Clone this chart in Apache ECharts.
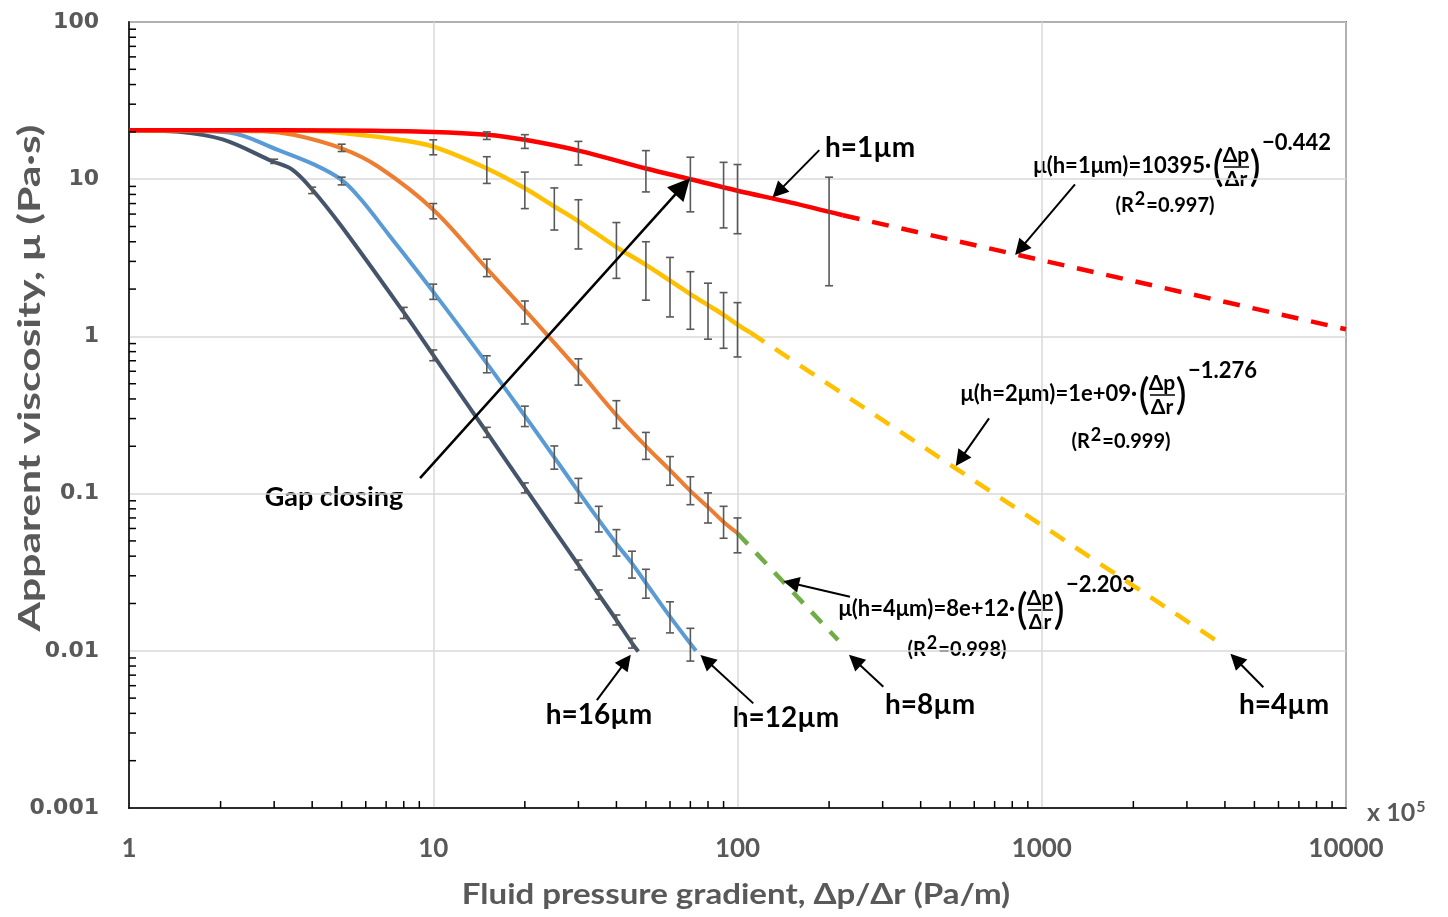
<!DOCTYPE html>
<html>
<head>
<meta charset="utf-8">
<title>Apparent viscosity vs fluid pressure gradient</title>
<script src="https://cdn.jsdelivr.net/npm/echarts@6/dist/echarts.min.js"></script>
<style>
  html, body { margin: 0; padding: 0; background: #fff; }
  #chart { width: 1448px; height: 917px; }
</style>
</head>
<body>
<div id="chart"></div>
<script>
// axis range / tick labels
const xMin = 1, xMax = 10000
const yMin = 0.001, yMax = 100
const minorSteps = [2, 3, 4, 5, 6, 7, 8, 9]
const xDecades = [1, 10, 100, 1000]
const yDecades = [0.001, 0.01, 0.1, 1, 10]

// measured curves [x (x10^5 Pa/m), viscosity (Pa.s)]
const curveH1 = [[1, 20.5], [2, 20.5], [5, 20.4], [10, 20], [15, 19.2], [20, 17.8], [30, 15.2], [50, 11.7], [70, 10.0], [100, 8.45], [150, 7.1], [222, 5.9]]
const curveH2 = [[1, 20.5], [3, 20.4], [4.4, 20.1], [5.8, 19.1], [7.6, 17.9], [10, 16.1], [15, 11.7], [20, 8.75], [25, 6.7], [30, 5.4], [40, 3.7], [50, 2.85], [60, 2.26], [70, 1.86], [80, 1.58], [90, 1.37], [100, 1.19], [110, 1.06]]
const curveH4 = [[1, 20.5], [2, 20.3], [2.74, 20.2], [3.5, 19.1], [5, 15.7], [6.6, 12], [10, 6.4], [15, 2.7], [20, 1.47], [30, 0.61], [40, 0.316], [50, 0.2], [60, 0.141], [70, 0.104], [80, 0.082], [90, 0.066], [100, 0.056]]
const curveH12 = [[1, 20.5], [1.5, 20.3], [2.13, 19.8], [3.1, 15.3], [4.1, 12.3], [5, 9.9], [5.8, 7.4], [7.1, 4.5], [10, 1.92], [15, 0.674], [20, 0.312], [25, 0.17], [30, 0.103], [35, 0.068], [40, 0.048], [45, 0.036], [50, 0.027], [60, 0.0165], [73, 0.01]]
const curveH16 = [[1, 20.5], [1.46, 20], [2.03, 17.9], [2.96, 13], [3.44, 11.5], [4, 8.6], [5, 5.0], [8, 1.42], [10, 0.76], [15, 0.245], [20, 0.109], [30, 0.0352], [35, 0.0228], [40, 0.0157], [45, 0.0112], [47.2, 0.0099]]

// power-law fits (dashed)
const fitH1 = [[222, 5.9], [10000, 1.11]]
const fitH2 = [[110, 1.06], [3800, 0.0114]]
const fitH4 = [[100, 0.056], [214, 0.0117]]

// error bars [x, low, high]
const errH1 = [[15, 17.9, 20.0], [20, 15.7, 19.2], [30, 12.3, 17.4], [50, 8.3, 15.2], [70, 6.2, 13.8], [90, 4.9, 12.8], [100, 4.5, 12.4], [200, 2.1, 10.3]]
const errH2 = [[10, 14.3, 17.8], [15, 9.4, 13.9], [20, 6.5, 11.1], [25, 4.75, 8.8], [30, 3.6, 7.4], [40, 2.34, 5.3], [50, 1.7, 4.0], [60, 1.33, 3.18], [70, 1.11, 2.58], [80, 0.96, 2.18], [90, 0.84, 1.9], [100, 0.74, 1.64]]
const errH4 = [[5, 15.0, 16.7], [10, 5.6, 7.0], [15, 2.4, 3.1], [20, 1.2, 1.68], [30, 0.49, 0.72], [40, 0.26, 0.39], [50, 0.165, 0.245], [60, 0.113, 0.172], [70, 0.085, 0.128], [80, 0.065, 0.101], [90, 0.052, 0.083], [100, 0.042, 0.07]]
const errH12 = [[5, 9.2, 10.3], [10, 1.72, 2.15], [15, 0.587, 0.753], [20, 0.267, 0.36], [25, 0.143, 0.201], [30, 0.087, 0.125], [35, 0.057, 0.083], [40, 0.04, 0.059], [45, 0.029, 0.043], [50, 0.0216, 0.033], [60, 0.013, 0.0205], [70, 0.0086, 0.0139]]
const errH16 = [[3, 12.6, 13.4], [4, 8.1, 8.9], [8, 1.30, 1.53], [10, 0.70, 0.82], [15, 0.228, 0.264], [20, 0.101, 0.117], [30, 0.0327, 0.0378], [35, 0.0213, 0.0244], [40, 0.0146, 0.0169], [45, 0.0104, 0.012]]

// annotation arrows, data coords [tail, head]
const arrowGap = [[9.05, 0.1256], [66, 9.0]]
const arrows = [
  [[185.7, 15.3], [136, 8.3]],     // h=1um
  [[1286, 9.28], [850, 3.6]],      // fit h=1um
  [[671, 0.301], [540, 0.165]],    // fit h=2um
  [[234.3, 0.0221], [150, 0.027]], // fit h=4um
  [[5350, 0.00586], [4350, 0.0088]], // h=4um
  [[301.5, 0.00591], [243, 0.0087]], // h=8um
  [[112.7, 0.00463], [79, 0.0087]],  // h=12um
  [[34.5, 0.00486], [43, 0.0086]]    // h=16um
]

const GRAY = '#595959'
const TXT = 'Lato'

const minorX = []
xDecades.forEach(d => minorSteps.forEach(s => minorX.push([d * s, yMin])))
const minorY = []
yDecades.forEach(d => minorSteps.forEach(s => minorY.push([xMin, d * s])))

function fmt (v) {
  return String(Number(v.toPrecision(3)))
}

function renderErrorBar (params, api) {
  const x = api.value(0)
  const lo = api.coord([x, api.value(1)])
  const hi = api.coord([x, api.value(2)])
  const w = 4
  const st = { stroke: GRAY, lineWidth: 1.6 }
  return {
    type: 'group',
    children: [
      { type: 'line', shape: { x1: lo[0], y1: lo[1], x2: hi[0], y2: hi[1] }, style: st },
      { type: 'line', shape: { x1: lo[0] - w, y1: lo[1], x2: lo[0] + w, y2: lo[1] }, style: st },
      { type: 'line', shape: { x1: hi[0] - w, y1: hi[1], x2: hi[0] + w, y2: hi[1] }, style: st }
    ]
  }
}

function renderXMinor (params, api) {
  const p = api.coord([api.value(0), api.value(1)])
  return { type: 'line', shape: { x1: p[0], y1: p[1], x2: p[0], y2: p[1] - 7 }, style: { stroke: '#000', lineWidth: 1.5 } }
}

function renderYMinor (params, api) {
  const p = api.coord([api.value(0), api.value(1)])
  return { type: 'line', shape: { x1: p[0], y1: p[1], x2: p[0] + 7, y2: p[1] }, style: { stroke: '#000', lineWidth: 1.5 } }
}

function curve (data, color, width) {
  return {
    type: 'line', data: data, showSymbol: false, smooth: 0.35,
    lineStyle: { color: color, width: width }, z: 3, silent: true
  }
}

function fit (data, color, dash) {
  return {
    type: 'line', data: data, showSymbol: false,
    lineStyle: { color: color, width: 4.5, type: dash }, z: 3, silent: true
  }
}

function txt (text, x, y, size, opts) {
  return Object.assign({
    type: 'text', x: x, y: y, silent: true,
    style: { text: text, font: 'bold ' + size + 'px ' + TXT, fill: '#000', align: 'center', verticalAlign: 'middle' }
  }, opts || {})
}

// fraction formula: fx,fy = left end / height of the fraction bar
function formula (f) {
  const els = []
  els.push({ type: 'text', x: f.fx - 12, y: f.fy - 1, style: { text: f.prefix, font: 'bold 22px ' + TXT, fill: '#000', align: 'right', verticalAlign: 'middle' } })
  els.push({ type: 'text', x: f.fx - 5, y: f.fy, style: { text: '(', font: '42px ' + TXT, fill: '#000', align: 'center', verticalAlign: 'middle' } })
  els.push({ type: 'text', x: f.fx + 13, y: f.fy - 12, style: { text: 'Δp', font: 'bold 21px ' + TXT, fill: '#000', align: 'center', verticalAlign: 'middle' } })
  els.push({ type: 'line', shape: { x1: f.fx + 1, y1: f.fy, x2: f.fx + 26, y2: f.fy }, style: { stroke: '#000', lineWidth: 1.5 } })
  els.push({ type: 'text', x: f.fx + 13, y: f.fy + 12, style: { text: 'Δr', font: 'bold 21px ' + TXT, fill: '#000', align: 'center', verticalAlign: 'middle' } })
  els.push({ type: 'text', x: f.fx + 32, y: f.fy, style: { text: ')', font: '42px ' + TXT, fill: '#000', align: 'center', verticalAlign: 'middle' } })
  els.push({ type: 'text', x: f.fx + 39, y: f.ey, style: { text: f.expo, font: 'bold 22px ' + TXT, fill: '#000', align: 'left', verticalAlign: 'middle' } })
  els.push({
    type: 'text', x: f.rx, y: f.ry,
    style: {
      text: '{a|(R}{s|2}{a|=' + f.r2 + ')}', align: 'center', verticalAlign: 'middle',
      rich: {
        a: { font: 'bold 20px ' + TXT, fill: '#000', verticalAlign: 'bottom' },
        s: { font: 'bold 18px ' + TXT, fill: '#000', verticalAlign: 'bottom', padding: [0, 1, 8, 1] }
      }
    }
  })
  return els
}

const formulas = [
  { prefix: 'μ(h=1μm)=10395·', expo: '−0.442', fx: 1223, fy: 167, ey: 143, r2: '0.997', rx: 1165, ry: 203 },
  { prefix: 'μ(h=2μm)=1e+09·', expo: '−1.276', fx: 1149, fy: 395, ey: 371, r2: '0.999', rx: 1121, ry: 439 },
  { prefix: 'μ(h=4μm)=8e+12·', expo: '−2.203', fx: 1027, fy: 610, ey: 585, r2: '0.998', rx: 957, ry: 647 }
]

const graphics = [
  txt('Gap closing', 334, 497, 27),
  txt('h=1µm', 870, 148, 28),
  txt('h=16µm', 599, 715, 28),
  txt('h=12µm', 786, 718, 28),
  txt('h=8µm', 930, 705, 28),
  txt('h=4µm', 1284, 705, 28),
  // axis titles
  {
    type: 'text', x: 736, y: 895, scaleX: 1.14, silent: true,
    style: { text: 'Fluid pressure gradient, Δp/Δr (Pa/m)', font: 'bold 29px ' + TXT, fill: GRAY, align: 'center', verticalAlign: 'middle' }
  },
  {
    type: 'text', x: 30, y: 378, rotation: Math.PI / 2, scaleX: 1.42, silent: true,
    style: { text: 'Apparent viscosity, μ (Pa·s)', font: 'bold 30px ' + TXT, fill: GRAY, align: 'center', verticalAlign: 'middle' }
  },
  {
    type: 'text', x: 1367, y: 812, silent: true,
    style: {
      text: '{a|x 10}{s|5}', align: 'left', verticalAlign: 'middle',
      rich: {
        a: { font: 'bold 25px ' + TXT, fill: GRAY, verticalAlign: 'bottom' },
        s: { font: 'bold 16px ' + TXT, fill: GRAY, verticalAlign: 'bottom', padding: [0, 0, 10, 1] }
      }
    }
  }
]
formulas.forEach(f => { formula(f).forEach(e => { e.silent = true; graphics.push(e) }) })

const option = {
  animation: false,
  backgroundColor: '#fff',
  grid: {
    left: 129, right: 102, top: 22, bottom: 109, show: true, borderColor: '#000', borderWidth: 1.5,
    containLabel: false, outerBoundsMode: 'none'
  },
  xAxis: {
    type: 'log', logBase: 10, min: xMin, max: xMax,
    axisLine: { show: true, onZero: false, lineStyle: { color: '#000', width: 1.5 } },
    axisTick: { show: false },
    axisLabel: { color: GRAY, fontFamily: TXT, fontWeight: 'bold', fontSize: 26, margin: 28, formatter: fmt },
    splitLine: { show: true, lineStyle: { color: '#d9d9d9', width: 1.5 } }
  },
  yAxis: {
    type: 'log', logBase: 10, min: yMin, max: yMax,
    axisLine: { show: true, onZero: false, lineStyle: { color: '#000', width: 1.5 } },
    axisTick: { show: false },
    axisLabel: { color: GRAY, fontFamily: 'DejaVu Sans', fontWeight: 'bold', fontSize: 22, margin: 30, formatter: fmt },
    splitLine: { show: true, lineStyle: { color: '#d9d9d9', width: 1.5 } }
  },
  series: [
    curve(curveH16, '#44546A', 4),
    curve(curveH12, '#5B9BD5', 4),
    curve(curveH4, '#ED7D31', 4),
    curve(curveH2, '#FFC000', 4.5),
    curve(curveH1, '#FF0000', 4.5),
    fit(fitH1, '#FF0000', [17, 13]),
    fit(fitH2, '#FFC000', [17, 13]),
    fit(fitH4, '#70AD47', [15, 12]),
    {
      type: 'custom', renderItem: renderErrorBar, silent: true, z: 4,
      encode: { x: 0, y: [1, 2] },
      data: [].concat(errH1, errH2, errH4, errH12, errH16)
    },
    { type: 'custom', renderItem: renderXMinor, silent: true, z: 5, encode: { x: 0, y: 1 }, data: minorX },
    { type: 'custom', renderItem: renderYMinor, silent: true, z: 5, encode: { x: 0, y: 1 }, data: minorY },
    {
      type: 'lines', coordinateSystem: 'cartesian2d', silent: true, z: 6,
      symbol: ['none', 'triangle'], symbolSize: [12, 16],
      lineStyle: { color: '#000', width: 2, opacity: 1, curveness: 0 },
      data: arrows.map(a => ({ coords: a })).concat([{
        coords: arrowGap, symbolSize: [15, 22], lineStyle: { width: 2.5 }
      }])
    }
  ],
  graphic: graphics
}

const chart = echarts.init(document.getElementById('chart'))
chart.setOption(option)
</script>
</body>
</html>
